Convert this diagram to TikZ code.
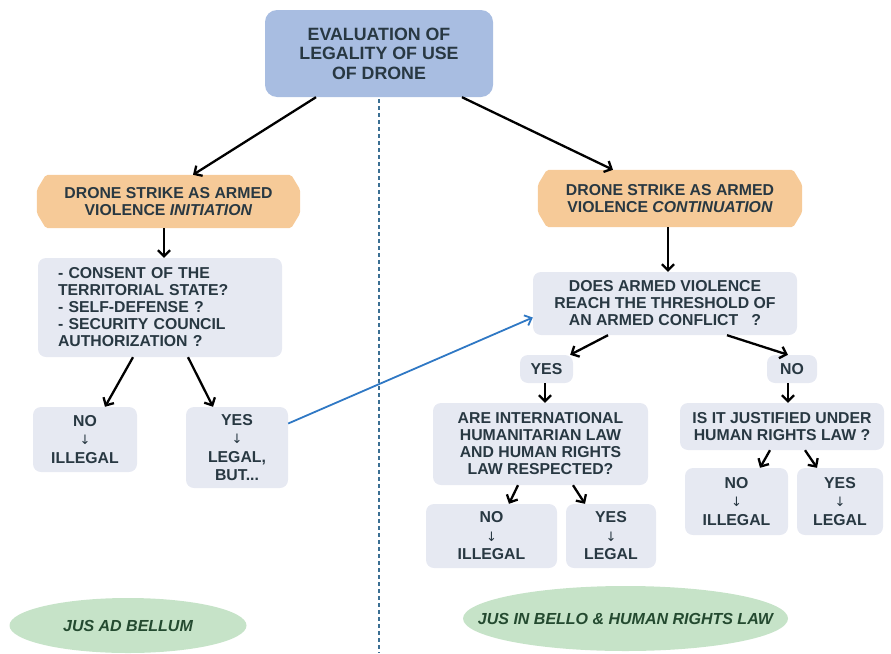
\documentclass[tikz,border=0pt]{standalone}
\usepackage{fontspec}
\setmainfont{Liberation Sans}
\newfontfamily\arrfont{DejaVu Sans}
\usetikzlibrary{arrows.meta,shapes.geometric}
\definecolor{topfill}{HTML}{A8BDE1}
\definecolor{orangefill}{HTML}{F6CA98}
\definecolor{grayfill}{HTML}{E6E9F2}
\definecolor{txtc}{HTML}{283842}
\definecolor{greenfill}{HTML}{C6E3C8}
\definecolor{greentxt}{HTML}{244A30}
\definecolor{bluearr}{HTML}{2F78C4}
\definecolor{dashc}{HTML}{3B6F93}
\newcommand{\txtarrow}{{\arrfont\mdseries\fontsize{13}{13}\selectfont ↓}}
\pgfdeclarelayer{background}
\pgfsetlayers{background,main}
\tikzset{
  txt/.style={font=\fontsize{15.8}{17}\selectfont\bfseries, text=txtc, align=center},
  gbox/.style={txt, fill=grayfill, rounded corners=8pt, inner sep=0pt},
  resbox/.style={gbox, font=\fontsize{15.8}{18.5}\selectfont\bfseries},
  obox/.style={txt, inner sep=0pt},
  arr/.style={draw=black, line width=2.3pt, -{Straight Barb[length=6pt,width=12pt]}},
  bluearrow/.style={draw=bluearr, line width=1.8pt, -{Straight Barb[length=6pt,width=11pt]}},
  dashline/.style={draw=dashc, line width=1.4pt, dash pattern=on 4pt off 3pt},
  jus/.style={ellipse, fill=greenfill, inner sep=0pt, text=greentxt,
    font=\fontsize{16}{18}\selectfont\bfseries\itshape},
}
\begin{document}
\begin{tikzpicture}[x=1pt,y=-1pt]
\useasboundingbox (0,0) rectangle (891,653);

% top
\node[txt, fill=topfill, rounded corners=12pt, inner sep=0pt,
  minimum width=228pt, minimum height=87pt,
  font=\fontsize{17.8}{19.5}\selectfont\bfseries] (top) at (379,53.5)
  {EVALUATION OF\\LEGALITY OF USE\\OF DRONE};

% dashed separator
\coordinate (dashend) at (379,653);
\draw[dashline] ([yshift=-2pt]top.south) -- (dashend);

% orange boxes
\node[obox, minimum width=263pt, minimum height=53pt] (o1) at (168.5,201.5)
  {DRONE STRIKE AS ARMED\\VIOLENCE \textit{INITIATION}};
\node[obox, minimum width=264pt, minimum height=57pt] (o2) at (670,198.5)
  {DRONE STRIKE AS ARMED\\VIOLENCE \textit{CONTINUATION}};
\begin{pgfonlayer}{background}
\foreach \n in {o1,o2}{
  \fill[orangefill, rounded corners=2pt]
    ([xshift=9pt]\n.north west) -- ([xshift=-9pt]\n.north east)
    -- ([yshift=-15pt]\n.north east) -- ([yshift=15pt]\n.south east)
    -- ([xshift=-9pt]\n.south east) -- ([xshift=9pt]\n.south west)
    -- ([yshift=15pt]\n.south west) -- ([yshift=-15pt]\n.north west) -- cycle;
}
\end{pgfonlayer}

% left column
\node[gbox, minimum width=244pt, minimum height=99pt, text width=204pt, align=left] (g1) at (160,307.5)
  {- CONSENT OF THE\\TERRITORIAL STATE?\\- SELF-DEFENSE ?\\- SECURITY COUNCIL\\AUTHORIZATION ?};
\node[resbox, minimum width=104pt, minimum height=65pt] (n1) at (85,439.5)
  {NO\\\txtarrow\\ILLEGAL};
\node[resbox, minimum width=102pt, minimum height=81pt] (y1) at (237,447.5)
  {YES\\\txtarrow\\LEGAL,\\BUT...};

% right column
\node[gbox, minimum width=264pt, minimum height=63pt] (d) at (665,303.5)
  {DOES ARMED VIOLENCE\\REACH THE THRESHOLD OF\\AN ARMED CONFLICT \ \ ?};
\node[gbox, minimum width=53pt, minimum height=28pt] (ys) at (546.5,369) {YES};
\node[gbox, minimum width=50pt, minimum height=28pt] (ns) at (792,369) {NO};
\node[gbox, minimum width=215pt, minimum height=82pt] (a) at (540.5,444)
  {ARE INTERNATIONAL\\HUMANITARIAN LAW\\AND HUMAN RIGHTS\\LAW RESPECTED?};
\node[gbox, minimum width=204pt, minimum height=47pt] (j) at (782,426.5)
  {IS IT JUSTIFIED UNDER\\HUMAN RIGHTS LAW ?};
\node[resbox, minimum width=131pt, minimum height=64pt] (n2) at (491.5,536)
  {NO\\\txtarrow\\ILLEGAL};
\node[resbox, minimum width=90pt, minimum height=64pt] (y2) at (611,536)
  {YES\\\txtarrow\\LEGAL};
\node[resbox, minimum width=103pt, minimum height=67pt] (n3) at (736.5,501.5)
  {NO\\\txtarrow\\ILLEGAL};
\node[resbox, minimum width=86pt, minimum height=67pt] (y3) at (840,501.5)
  {YES\\\txtarrow\\LEGAL};

% ellipses
\node[jus, minimum width=237pt, minimum height=55pt] (e1) at (128,625.5)
  {\makebox[0pt]{JUS AD BELLUM}};
\node[jus, minimum width=325pt, minimum height=65pt] (e2) at (625.5,618.5)
  {\makebox[0pt]{JUS IN BELLO \& HUMAN RIGHTS LAW}};

% connectors
\draw[arr] ([xshift=-63pt]top.south) -- ([xshift=24.5pt]o1.north);
\draw[arr] ([xshift=83pt]top.south) -- ([xshift=-57pt]o2.north);
\draw[arr] ([xshift=-4.5pt]o1.south) -- ([xshift=4pt]g1.north);
\draw[arr] ([xshift=-27pt]g1.south) -- ([xshift=20pt]n1.north);
\draw[arr] ([xshift=28pt]g1.south) -- ([xshift=-24pt]y1.north);
\draw[arr] ([xshift=-2pt]o2.south) -- ([xshift=3pt]d.north);
\draw[arr] ([xshift=-57pt]d.south) -- ([xshift=-3pt]ys.north east);
\draw[arr] ([xshift=62pt]d.south) -- ([xshift=-4pt]ns.north);
\draw[arr] ([xshift=-1.5pt]ys.south) -- ([xshift=4.5pt]a.north);
\draw[arr] ([xshift=-4pt]ns.south) -- ([xshift=6pt]j.north);
\draw[arr] ([xshift=-22.5pt]a.south) -- ([xshift=17.5pt]n2.north);
\draw[arr] ([xshift=32.5pt]a.south) -- ([xshift=-26pt]y2.north);
\draw[arr] ([xshift=-12pt]j.south) -- ([xshift=23.5pt]n3.north);
\draw[arr] ([xshift=23pt]j.south) -- ([xshift=-23pt]y3.north);
\draw[bluearrow] ([yshift=24pt]y1.east) -- ([yshift=-14pt]d.west);
\end{tikzpicture}
\end{document}
